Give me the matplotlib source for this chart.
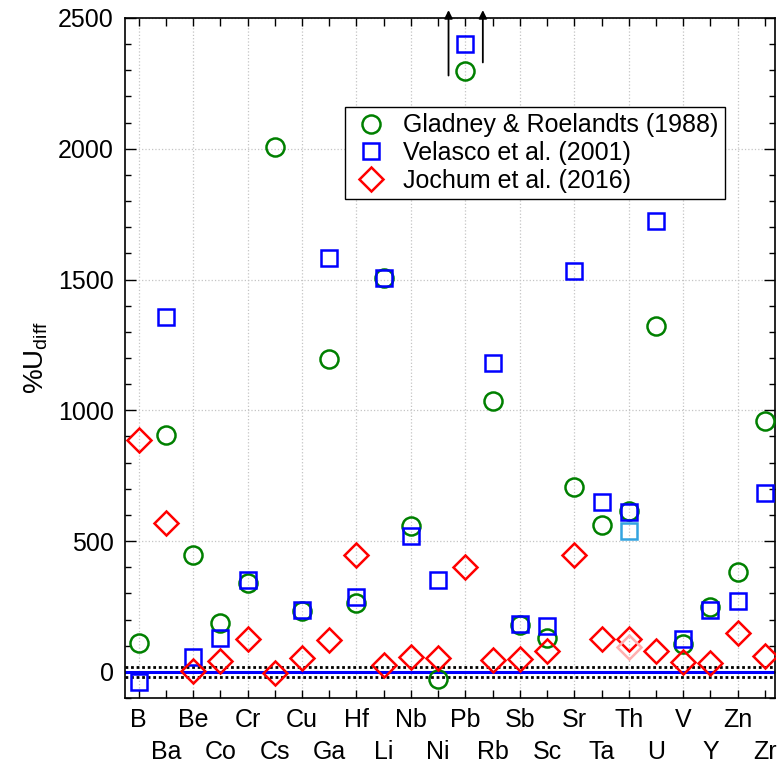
import matplotlib
matplotlib.use("Agg")
import matplotlib.pyplot as plt
import numpy as np
from matplotlib.ticker import MultipleLocator

plt.rcParams["font.family"] = ["Liberation Sans", "DejaVu Sans"]
plt.rcParams["mathtext.fontset"] = "custom"
plt.rcParams["mathtext.rm"] = "Liberation Sans"

elements = ["B", "Ba", "Be", "Co", "Cr", "Cs", "Cu", "Ga", "Hf", "Li", "Nb", "Ni",
            "Pb", "Rb", "Sb", "Sc", "Sr", "Ta", "Th", "U", "V", "Y", "Zn", "Zr"]

gladney = [110, 907, 445, 188, 338, 2008, 232, 1196, 265, 1505, 558, -28,
           2299, 1035, 178, 129, 705, 562, 614, 1324, 107, 248, 380, 958]
velasco = [-40, 1358, 56, 131, 351, np.nan, 235, 1583, 285, 1505, 520, 352,
           2401, 1180, 183, 174, 1531, 648, 612, 1725, 127, 237, 271, 682]
jochum = [888, 569, 3, 40, 127, -3, 53, 123, 446, 27, 56, 52,
          402, 44, 49, 81, 448, 124, 127, 81, 36, 35, 149, 62]

# extra (lighter) markers drawn at Th
th_velasco_alt = 537
th_jochum_alt = 97

# off-scale arrows next to Pb (offset from Pb position, start value)
pb_arrows = [(-0.62, 2280), (0.64, 2330)]

x = np.arange(1, len(elements) + 1)

fig = plt.figure(figsize=(7.8, 7.68), dpi=100)
ax = fig.add_axes([0.1603, 0.0911, 0.8333, 0.8855])

ax.grid(True, which="major", linestyle=":", color="#c4c4c4", linewidth=0.9)
ax.set_axisbelow(True)

ax.axhline(0, color="#0000ff", linewidth=2.2, zorder=2)
ax.axhline(20, color="black", linestyle=(0, (1, 1)), linewidth=2.0, zorder=2)
ax.axhline(-20, color="black", linestyle=(0, (1, 1)), linewidth=2.0, zorder=2)

ax.plot(x, gladney, "o", ms=13, mfc="none", mec="#008000", mew=1.8,
        label="Gladney & Roelandts (1988)", zorder=3)
ax.plot(x, velasco, "s", ms=11.5, mfc="none", mec="#0000ff", mew=1.8,
        label="Velasco et al. (2001)", zorder=4)
ax.plot(x, jochum, "D", ms=12, mfc="none", mec="#ff0000", mew=1.8,
        label="Jochum et al. (2016)", zorder=5)

th = elements.index("Th") + 1
ax.plot([th], [th_velasco_alt], "s", ms=11.5, mfc="none", mec="#34a4e0", mew=1.8, zorder=4)
ax.plot([th], [th_jochum_alt], "D", ms=12, mfc="none", mec="#ffb0b0", mew=1.8, zorder=5)

pb = elements.index("Pb") + 1
for dx, start in pb_arrows:
    ax.annotate("", xy=(pb + dx, 2530), xytext=(pb + dx, start),
                arrowprops=dict(arrowstyle="-|>", color="black", lw=1.3,
                                mutation_scale=12, shrinkA=0, shrinkB=0),
                annotation_clip=False, zorder=6)

ax.set_xlim(0.5, 24.37)
ax.set_ylim(-100, 2500)

# two rows of element labels: odd positions on top row, even on the lower one
ax.set_xticks(x[::2])
ax.set_xticklabels(elements[::2], fontsize=18)
ax.set_xticks(x[1::2], minor=True)
ax.set_xticklabels(elements[1::2], minor=True, fontsize=18)
ax.yaxis.set_major_locator(MultipleLocator(500))
ax.yaxis.set_minor_locator(MultipleLocator(100))
ax.tick_params(axis="x", which="major", direction="in", top=True, bottom=True,
               length=6, width=1, pad=7)
ax.tick_params(axis="x", which="minor", direction="in", top=True, bottom=True,
               length=6, width=1, pad=30)
ax.tick_params(axis="y", which="major", direction="in", left=True, right=True,
               length=8, width=1, labelsize=18, pad=8)
ax.tick_params(axis="y", which="minor", direction="in", left=True, right=True,
               length=4, width=1)
for s in ax.spines.values():
    s.set_linewidth(1.2)

ax.set_ylabel(r"%U$_{\rm diff}$", fontsize=20, labelpad=6)

ax.legend(loc="upper left", bbox_to_anchor=(0.338, 0.869), fontsize=18,
          frameon=True, fancybox=False, edgecolor="black", framealpha=1,
          borderpad=0.25, handletextpad=0.5, labelspacing=0.15,
          handlelength=1.6, borderaxespad=0)

fig.savefig("out.png", dpi=100)
